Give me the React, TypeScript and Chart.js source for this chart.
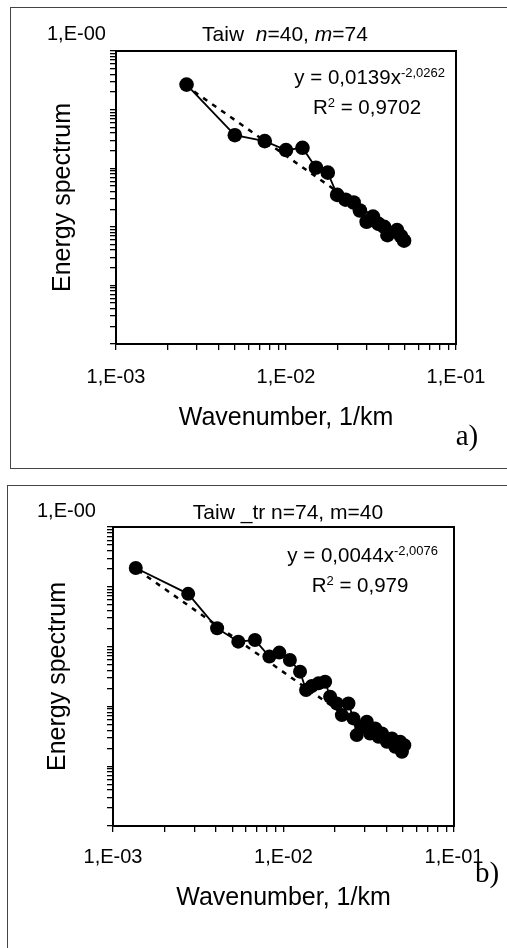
import React, { useEffect, useRef } from "react";
import { Chart, registerables } from "chart.js";

Chart.register(...registerables);

// ---------- data ----------
const aWaveNumber = [0.0026, 0.005, 0.0075, 0.01, 0.0125, 0.015, 0.0176, 0.02, 0.0224, 0.025, 0.0272, 0.0298, 0.0325, 0.035, 0.0378, 0.0395, 0.045, 0.0475, 0.0495];
const aEnergy = [0.267, 0.0366, 0.029, 0.0204, 0.0223, 0.0102, 0.0084, 0.0035, 0.0029, 0.0026, 0.0019, 0.00122, 0.00149, 0.00112, 0.001, 0.00072, 0.00088, 0.00069, 0.00058];
const aTrendX = [0.00255, 0.05];
const aTrendY = [0.26, 0.000625];

const bWaveNumber = [0.00136, 0.00276, 0.00408, 0.00543, 0.0068, 0.00826, 0.00945, 0.0109, 0.0125, 0.01356, 0.01466, 0.01603, 0.01755, 0.01877, 0.02054, 0.022, 0.02404, 0.0257, 0.0269, 0.0288, 0.0308, 0.0322, 0.0345, 0.0361, 0.0378, 0.0404, 0.0432, 0.0452, 0.0483, 0.0495, 0.0511];
const bEnergy = [0.206, 0.0763, 0.0203, 0.0121, 0.0129, 0.0068, 0.00794, 0.00598, 0.00381, 0.00188, 0.00219, 0.00243, 0.00259, 0.00145, 0.00112, 0.000716, 0.00112, 0.00063, 0.000331, 0.000457, 0.000553, 0.000353, 0.000428, 0.00031, 0.000353, 0.000256, 0.000291, 0.000211, 0.000256, 0.000174, 0.000225];
const bTrendX = [0.0014, 0.05];
const bTrendY = [0.19, 0.00015];

const xMajorTicks = [0.001, 0.01, 0.1];
const xTickLabels = ["1,E-03", "1,E-02", "1,E-01"];
const xRange = [0.001, 0.1];
const yRange = [0.00001, 1];
const yTopLabel = "1,E-00";

const panelTitles = ["Taiw", "Taiw _tr"];
const panelNM = [["40", "74"], ["74", "40"]];
const eqCoef = ["0,0139", "0,0044"];
const eqExp = ["-2,0262", "-2,0076"];
const eqR2 = ["0,9702", "0,979"];
const panelTags = ["a)", "b)"];
const xTitle = "Wavenumber, 1/km";
const yTitle = "Energy spectrum";

const SANS = '"Liberation Sans", Arial, sans-serif';
const SERIF = '"Liberation Serif", "Times New Roman", serif';

function decadeTicks(min: number, max: number): number[] {
  const out: number[] = [];
  const e0 = Math.round(Math.log10(min));
  const e1 = Math.round(Math.log10(max));
  for (let e = e0; e <= e1; e++) {
    for (let m = 1; m <= 9; m++) {
      const v = parseFloat((m * Math.pow(10, e)).toPrecision(6));
      if (v >= min * 0.999 && v <= max * 1.001) out.push(v);
    }
  }
  return out;
}

const boxPlugin = {
  id: "plotBox",
  afterDraw(chart: any) {
    const { ctx, chartArea } = chart;
    const { left, top, right, bottom } = chartArea;
    ctx.save();
    ctx.strokeStyle = "#000";
    ctx.lineWidth = 2;
    ctx.strokeRect(left, top, right - left, bottom - top);
    ctx.restore();
  },
};

type PanelCfg = {
  top: number;
  height: number;
  padLeft: number;
  padRight: number;
  padTop: number;
  padBottom: number;
  yWidth: number;
  xHeight: number;
  tickPad: number;
  xs: number[];
  ys: number[];
  tx: number[];
  ty: number[];
  radius: number;
};

function PanelChart({ cfg }: { cfg: PanelCfg }) {
  const ref = useRef<HTMLCanvasElement | null>(null);
  useEffect(() => {
    if (!ref.current) return;
    const xTicks = decadeTicks(xRange[0], xRange[1]);
    const yTicks = decadeTicks(yRange[0], yRange[1]);
    const chart = new Chart(ref.current, {
      type: "scatter",
      data: {
        datasets: [
          {
            data: cfg.xs.map((x, i) => ({ x, y: cfg.ys[i] })),
            showLine: true,
            borderColor: "#000",
            borderWidth: 1.8,
            pointRadius: cfg.radius,
            pointBackgroundColor: "#000",
            pointBorderColor: "#000",
            pointBorderWidth: 0,
          },
          {
            data: cfg.tx.map((x, i) => ({ x, y: cfg.ty[i] })),
            showLine: true,
            borderColor: "#000",
            borderWidth: 2.5,
            borderDash: [5, 6],
            pointRadius: 0,
          },
        ],
      },
      options: {
        animation: false,
        responsive: false,
        devicePixelRatio: 1,
        events: [],
        layout: {
          padding: { left: cfg.padLeft, right: cfg.padRight, top: cfg.padTop, bottom: cfg.padBottom },
        },
        plugins: { legend: { display: false }, tooltip: { enabled: false }, title: { display: false } },
        scales: {
          x: {
            type: "logarithmic",
            min: xRange[0],
            max: xRange[1],
            afterBuildTicks: (scale: any) => {
              scale.ticks = xTicks.map((v) => ({ value: v }));
            },
            afterFit: (scale: any) => {
              scale.height = cfg.xHeight;
            },
            ticks: {
              autoSkip: false,
              maxRotation: 0,
              minRotation: 0,
              padding: cfg.tickPad,
              color: "#000",
              font: { family: SANS, size: 20 },
              callback: (value: any) => {
                const v = Number(value);
                const i = xMajorTicks.findIndex((t) => Math.abs(t - v) < t * 1e-6);
                return i >= 0 ? xTickLabels[i] : "";
              },
            },
            grid: { drawOnChartArea: false, drawTicks: true, tickLength: 6, color: "#000", lineWidth: 1.3 },
            border: { display: true, color: "#000", width: 2 },
            title: {
              display: true,
              text: xTitle,
              color: "#000",
              font: { family: SANS, size: 25 },
              padding: { top: 0, bottom: 1 },
            },
          },
          y: {
            type: "logarithmic",
            min: yRange[0],
            max: yRange[1],
            afterBuildTicks: (scale: any) => {
              scale.ticks = yTicks.map((v) => ({ value: v }));
            },
            afterFit: (scale: any) => {
              scale.width = cfg.yWidth;
            },
            ticks: { display: false, autoSkip: false },
            grid: { drawOnChartArea: false, drawTicks: true, tickLength: 6, color: "#000", lineWidth: 1.3 },
            border: { display: true, color: "#000", width: 2 },
            title: {
              display: true,
              text: yTitle,
              color: "#000",
              font: { family: SANS, size: 25 },
              padding: { top: 4, bottom: 0 },
            },
          },
        },
      } as any,
      plugins: [boxPlugin],
    });
    return () => chart.destroy();
  }, [cfg]);
  return (
    <canvas
      ref={ref}
      width={507}
      height={cfg.height}
      style={{ position: "absolute", left: 0, top: cfg.top, width: 507, height: cfg.height, display: "block" }}
    />
  );
}

const cfgA: PanelCfg = {
  top: 0, height: 470, padLeft: 44, padRight: 51, padTop: 51, padBottom: 36, yWidth: 72, xHeight: 90, tickPad: 15,
  xs: aWaveNumber, ys: aEnergy, tx: aTrendX, ty: aTrendY, radius: 7.3,
};
const cfgB: PanelCfg = {
  top: 470, height: 478, padLeft: 39, padRight: 53, padTop: 57, padBottom: 34, yWidth: 74, xHeight: 88, tickPad: 13,
  xs: bWaveNumber, ys: bEnergy, tx: bTrendX, ty: bTrendY, radius: 7,
};

function T({ x, y, children, align = "center", size = 20, family = SANS }: any) {
  const style: any = {
    position: "absolute",
    top: y,
    fontFamily: family,
    fontSize: size,
    lineHeight: 1,
    whiteSpace: "nowrap",
    color: "#000",
  };
  if (align === "center") {
    style.left = x;
    style.transform = "translate(-50%, -50%)";
  } else if (align === "left") {
    style.left = x;
    style.transform = "translate(0, -50%)";
  } else {
    style.right = 507 - x;
    style.transform = "translate(0, -50%)";
  }
  return <div style={style}>{children}</div>;
}

export default function App() {
  const supStyle = { fontSize: 13, verticalAlign: "0.55em", lineHeight: 0 } as any;
  const r2Sup = { fontSize: 13, verticalAlign: "0.55em", lineHeight: 0 } as any;
  return (
    <div style={{ position: "absolute", left: 0, top: 0, width: 507, height: 948, background: "#fff", overflow: "hidden" }}>
      {/* panel frames */}
      <div style={{ position: "absolute", left: 10, top: 7, width: 497, height: 460, borderTop: "1px solid #444", borderLeft: "1px solid #444", borderBottom: "1px solid #444" }} />
      <div style={{ position: "absolute", left: 7, top: 485, width: 500, height: 470, borderTop: "1px solid #444", borderLeft: "1px solid #444" }} />

      <PanelChart cfg={cfgA} />
      <PanelChart cfg={cfgB} />

      {/* panel a texts */}
      <T x={47} y={33} align="left">{yTopLabel}</T>
      <T x={285} y={33} size={21}>
        {panelTitles[0]}&nbsp; <i>n</i>={panelNM[0][0]}, <i>m</i>={panelNM[0][1]}
      </T>
      <T x={445} y={77} align="right" size={20.5}>
        y = {eqCoef[0]}x<span style={supStyle}>{eqExp[0]}</span>
      </T>
      <T x={367} y={107} size={20.5}>
        R<span style={r2Sup}>2</span> = {eqR2[0]}
      </T>
      <T x={467} y={435} size={29} family={SERIF}>{panelTags[0]}</T>

      {/* panel b texts */}
      <T x={37} y={510} align="left">{yTopLabel}</T>
      <T x={288} y={511} size={21}>
        {panelTitles[1]} n={panelNM[1][0]}, m={panelNM[1][1]}
      </T>
      <T x={438} y={555} align="right" size={20.5}>
        y = {eqCoef[1]}x<span style={supStyle}>{eqExp[1]}</span>
      </T>
      <T x={360} y={585} size={20.5}>
        R<span style={r2Sup}>2</span> = {eqR2[1]}
      </T>
      <T x={487} y={872} size={29} family={SERIF}>{panelTags[1]}</T>
    </div>
  );
}
